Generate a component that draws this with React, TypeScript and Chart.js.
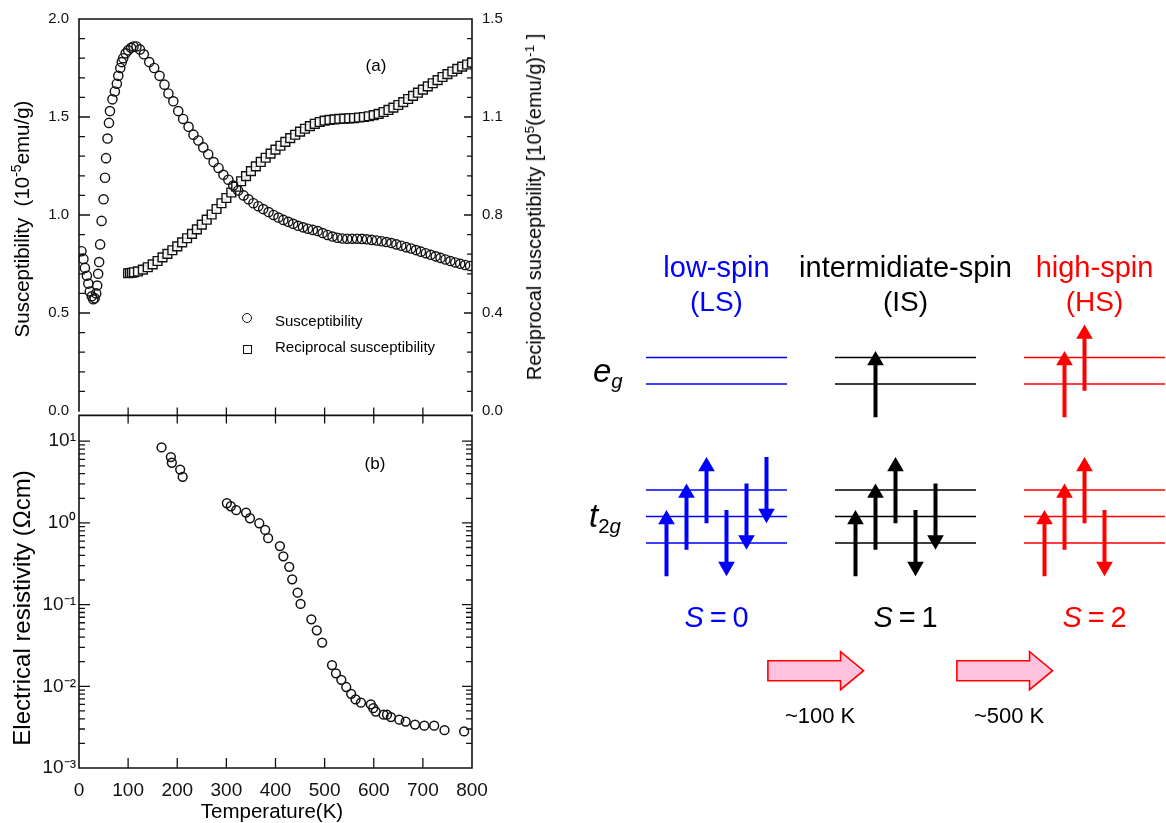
import React, { useEffect, useRef } from 'react';
import { Chart, registerables } from 'chart.js';

Chart.register(...registerables);

const FONT = '"Liberation Sans", Arial, Helvetica, sans-serif';
const INK = '#111111';

// ---------- (a) susceptibility (left axis, 10^-5 emu/g) ----------
const chiTemps = [5, 9, 12, 16, 19, 22, 26, 29, 32, 35, 37, 39, 41, 43, 46, 50, 53, 55, 58, 61, 63, 68, 73, 77, 80, 84, 87, 90, 95, 100, 106, 111, 117, 124, 132, 143, 153, 164, 174, 182, 192, 202, 212, 223, 233, 243, 253, 263, 274, 284, 294, 304, 314, 324, 335, 345, 355, 365, 375, 386, 396, 406, 416, 426, 436, 446, 456, 466, 476, 486, 496, 506, 516, 526, 536, 546, 556, 566, 576, 586, 596, 606, 616, 626, 636, 646, 656, 666, 676, 686, 696, 706, 716, 726, 736, 746, 756, 766, 776, 786, 796];
const chiValues = [0.815, 0.776, 0.73, 0.69, 0.65, 0.61, 0.585, 0.57, 0.575, 0.6, 0.64, 0.7, 0.76, 0.85, 0.97, 1.08, 1.19, 1.29, 1.39, 1.47, 1.53, 1.59, 1.63, 1.67, 1.71, 1.75, 1.78, 1.8, 1.825, 1.84, 1.853, 1.86, 1.86, 1.845, 1.82, 1.78, 1.75, 1.71, 1.665, 1.62, 1.58, 1.53, 1.49, 1.45, 1.41, 1.38, 1.345, 1.31, 1.27, 1.24, 1.205, 1.18, 1.15, 1.125, 1.1, 1.08, 1.06, 1.045, 1.03, 1.015, 1.0, 0.987, 0.975, 0.965, 0.955, 0.945, 0.937, 0.93, 0.924, 0.918, 0.908, 0.898, 0.89, 0.884, 0.88, 0.879, 0.879, 0.879, 0.878, 0.876, 0.873, 0.87, 0.866, 0.862, 0.857, 0.85, 0.843, 0.836, 0.829, 0.821, 0.813, 0.805, 0.797, 0.789, 0.781, 0.773, 0.765, 0.758, 0.751, 0.745, 0.74];

// ---------- (a) reciprocal susceptibility (right axis) ----------
const invTemps = [100, 104, 108, 112, 120, 130, 140, 150, 160, 170, 180, 190, 200, 210, 220, 230, 240, 250, 260, 270, 280, 290, 300, 310, 320, 330, 340, 350, 360, 370, 380, 390, 400, 410, 420, 430, 440, 450, 460, 470, 480, 490, 500, 510, 520, 530, 540, 550, 560, 570, 580, 590, 600, 610, 620, 630, 640, 650, 660, 670, 680, 690, 700, 710, 720, 730, 740, 750, 760, 770, 780, 790, 800];
const invValues = [0.527, 0.528, 0.529, 0.531, 0.534, 0.541, 0.55, 0.561, 0.574, 0.588, 0.601, 0.615, 0.63, 0.645, 0.661, 0.678, 0.695, 0.713, 0.732, 0.752, 0.773, 0.795, 0.815, 0.836, 0.858, 0.879, 0.899, 0.918, 0.936, 0.953, 0.969, 0.985, 1.0, 1.015, 1.03, 1.044, 1.057, 1.069, 1.08, 1.09, 1.099, 1.106, 1.111, 1.114, 1.116, 1.118, 1.119, 1.12, 1.121, 1.123, 1.125, 1.128, 1.132, 1.137, 1.144, 1.152, 1.161, 1.171, 1.182, 1.194, 1.206, 1.218, 1.23, 1.242, 1.254, 1.266, 1.278, 1.289, 1.299, 1.309, 1.318, 1.326, 1.333];

// ---------- (b) electrical resistivity (Ωcm) ----------
const rhoTemps = [168, 187, 189, 206, 211, 301, 309, 320, 340, 348, 367, 379, 385, 409, 416, 428, 434, 445, 451, 473, 484, 495, 515, 523, 534, 544, 554, 563, 574, 594, 599, 604, 620, 627, 635, 652, 665, 684, 703, 723, 744, 784];
const rhoValues = [8.4, 6.4, 5.45, 4.5, 3.67, 1.74, 1.6, 1.43, 1.34, 1.14, 0.99, 0.82, 0.65, 0.52, 0.39, 0.29, 0.204, 0.14, 0.102, 0.066, 0.0485, 0.0343, 0.0182, 0.0144, 0.012, 0.0098, 0.0081, 0.0069, 0.0063, 0.006, 0.0054, 0.0049, 0.0045, 0.0045, 0.0042, 0.0039, 0.0037, 0.0034, 0.0033, 0.0033, 0.0029, 0.0028];

// ---------- tick labels ----------
const tempTickValues = [0, 100, 200, 300, 400, 500, 600, 700, 800];
const tempTickLabels = ['0', '100', '200', '300', '400', '500', '600', '700', '800'];
const chiTickValues = [0, 0.5, 1.0, 1.5, 2.0];
const chiTickLabels = ['0.0', '0.5', '1.0', '1.5', '2.0'];
const invTickValues = [0, 0.375, 0.75, 1.125, 1.5];
const invTickLabels = ['0.0', '0.4', '0.8', '1.1', '1.5'];
const rhoTickValues = [0.001, 0.01, 0.1, 1, 10];
const rhoTickLabels = ['10⁻³', '10⁻²', '10⁻¹', '10⁰', '10¹'];
const RHO_MAX = 20.7;

// ---------- spin-state diagram ----------
const spinNames = ['low-spin', 'intermidiate-spin', 'high-spin'];
const spinAbbr = ['(LS)', '(IS)', '(HS)'];
const spinTotals = ['0', '1', '2'];
const spinColors = ['#0000ff', '#000000', '#ff0000'];
const t2gLevels = [0, 1, 2];
const egLevels = [6, 7];
const electronSlots = [
  [-2.5, -1.5, -0.5, 0.5, 1.5, 2.5],
  [-2.5, -1.5, -0.5, 0.5, 1.5, -1.5],
  [-2.5, -1.5, -0.5, 0.5, -1.5, -0.5],
];
const electronLevels = [
  [0, 1, 2, 0, 1, 2],
  [0, 1, 2, 0, 1, 6],
  [0, 1, 2, 0, 6, 7],
];
const electronSpins = [
  [1, 1, 1, -1, -1, -1],
  [1, 1, 1, -1, -1, 1],
  [1, 1, 1, -1, 1, 1],
];
const transitionFrom = [0, 1];
const transitionTo = [1, 2];
const transitionLabels = ['~100 K', '~500 K'];

// diagram layout (page px)
const D_LEFT = 560, D_TOP = 230, D_W = 606, D_H = 520;
const COL0 = 716.5, COL_STEP = 189;
const E0 = 543, E_STEP = 26.5;
const LEVEL_HALF = 0.373;
const SLOT = 20 / COL_STEP;
const ARROW_HALF = 1.25;
const HEAD_R = 9.6;
const TRANS_E = -4.82;
const colX = (c: number) => COL0 + COL_STEP * c;

type Tick = { value: number; major: boolean };
type Side = 'left' | 'right' | 'top' | 'bottom';
type MarkSpec = { scaleId: string; side: Side; major: number; minor: number; cross?: boolean };

function linearTicks(majors: number[], sub: number): Tick[] {
  const out: Tick[] = [];
  majors.forEach((v, i) => {
    out.push({ value: v, major: true });
    if (i < majors.length - 1) {
      const step = (majors[i + 1] - v) / sub;
      for (let k = 1; k < sub; k++) out.push({ value: v + k * step, major: false });
    }
  });
  return out;
}

function logTicks(majors: number[], max: number): Tick[] {
  const out: Tick[] = [];
  majors.forEach((d) => {
    out.push({ value: d, major: true });
    for (let m = 2; m <= 9; m++) if (d * m < max) out.push({ value: d * m, major: false });
  });
  return out;
}

function labelOf(value: number, values: number[], labels: string[]) {
  const i = values.findIndex((v) => Math.abs(v - value) <= 1e-9 * Math.abs(v) + 1e-12);
  return i >= 0 ? labels[i] : '';
}

function frameAndTicks(id: string, frame: Side[], specs: MarkSpec[]) {
  return {
    id,
    afterDraw(chart: any) {
      const { ctx, chartArea: a } = chart;
      ctx.save();
      ctx.strokeStyle = INK;
      ctx.lineWidth = 1.6;
      ctx.lineCap = 'square';
      ctx.beginPath();
      frame.forEach((s) => {
        if (s === 'top') { ctx.moveTo(a.left, a.top); ctx.lineTo(a.right, a.top); }
        if (s === 'bottom') { ctx.moveTo(a.left, a.bottom); ctx.lineTo(a.right, a.bottom); }
        if (s === 'left') { ctx.moveTo(a.left, a.top); ctx.lineTo(a.left, a.bottom); }
        if (s === 'right') { ctx.moveTo(a.right, a.top); ctx.lineTo(a.right, a.bottom); }
      });
      ctx.stroke();
      ctx.lineWidth = 1.3;
      ctx.lineCap = 'butt';
      ctx.beginPath();
      specs.forEach((sp) => {
        const scale = chart.scales[sp.scaleId];
        (scale.ticks as Tick[]).forEach((t) => {
          const p = scale.getPixelForValue(t.value);
          const len = t.major ? sp.major : sp.minor;
          const out = sp.cross ? len : 0;
          if (sp.side === 'left' || sp.side === 'right') {
            if (p < a.top + 2 || p > a.bottom - 2) return;
            const x0 = sp.side === 'left' ? a.left : a.right;
            const dir = sp.side === 'left' ? 1 : -1;
            ctx.moveTo(x0 - dir * out, p);
            ctx.lineTo(x0 + dir * len, p);
          } else {
            if (p < a.left + 2 || p > a.right - 2) return;
            const y0 = sp.side === 'top' ? a.top : a.bottom;
            const dir = sp.side === 'top' ? 1 : -1;
            ctx.moveTo(p, y0 - dir * out);
            ctx.lineTo(p, y0 + dir * len);
          }
        });
      });
      ctx.stroke();
      ctx.restore();
    },
  };
}

const hiddenGrid = { display: false, drawTicks: false };

function configA(): any {
  return {
    type: 'scatter',
    data: {
      datasets: [
        {
          data: chiTemps.map((t, i) => ({ x: t, y: chiValues[i] })),
          yAxisID: 'y',
          pointStyle: 'circle',
          pointRadius: 4.6,
          pointBorderWidth: 1.4,
          pointBorderColor: INK,
          pointBackgroundColor: 'rgba(0,0,0,0)',
        },
        {
          data: invTemps.map((t, i) => ({ x: t, y: invValues[i] })),
          yAxisID: 'y2',
          pointStyle: 'rect',
          pointRadius: 6.2,
          pointBorderWidth: 1.4,
          pointBorderColor: INK,
          pointBackgroundColor: 'rgba(255,255,255,0.85)',
        },
      ],
    },
    options: {
      animation: false,
      responsive: false,
      devicePixelRatio: 1,
      events: [],
      layout: { padding: { top: 17, bottom: 17, left: 0, right: 0 }, autoPadding: false },
      plugins: { legend: { display: false }, tooltip: { enabled: false } },
      scales: {
        x: { type: 'linear', min: 0, max: 800, display: false },
        y: {
          type: 'linear', position: 'left', min: 0, max: 2,
          grid: hiddenGrid, border: { display: false },
          afterFit: (s: any) => { s.width = 79; },
          afterBuildTicks: (s: any) => { s.ticks = linearTicks(chiTickValues, 5); },
          ticks: {
            autoSkip: false, padding: 10, color: INK, font: { family: FONT, size: 15 },
            callback: (v: number) => labelOf(v, chiTickValues, chiTickLabels),
          },
        },
        y2: {
          type: 'linear', position: 'right', min: 0, max: 1.5,
          grid: hiddenGrid, border: { display: false },
          afterFit: (s: any) => { s.width = 88; },
          afterBuildTicks: (s: any) => { s.ticks = linearTicks(invTickValues, 5); },
          ticks: {
            autoSkip: false, padding: 10, color: INK, font: { family: FONT, size: 15 },
            callback: (v: number) => labelOf(v, invTickValues, invTickLabels),
          },
        },
      },
    },
    plugins: [
      frameAndTicks('frameA', ['top', 'left', 'right'], [
        { scaleId: 'y', side: 'left', major: 11, minor: 6 },
        { scaleId: 'y2', side: 'right', major: 8, minor: 5 },
      ]),
    ],
  };
}

function configB(): any {
  return {
    type: 'scatter',
    data: {
      datasets: [
        {
          data: rhoTemps.map((t, i) => ({ x: t, y: rhoValues[i] })),
          yAxisID: 'y',
          pointStyle: 'circle',
          pointRadius: 4.4,
          pointBorderWidth: 1.5,
          pointBorderColor: INK,
          pointBackgroundColor: 'rgba(0,0,0,0)',
        },
      ],
    },
    options: {
      animation: false,
      responsive: false,
      devicePixelRatio: 1,
      events: [],
      layout: { padding: { top: 12, bottom: 0, left: 0, right: 0 }, autoPadding: false },
      plugins: { legend: { display: false }, tooltip: { enabled: false } },
      scales: {
        x: {
          type: 'linear', position: 'bottom', min: 0, max: 800,
          grid: hiddenGrid, border: { display: false },
          afterFit: (s: any) => { s.height = 55; },
          afterBuildTicks: (s: any) => { s.ticks = tempTickValues.map((v) => ({ value: v, major: true })); },
          ticks: {
            autoSkip: false, maxRotation: 0, padding: 11, color: INK, font: { family: FONT, size: 19 },
            callback: (v: number) => labelOf(v, tempTickValues, tempTickLabels),
          },
        },
        y: {
          type: 'logarithmic', position: 'left', min: 0.001, max: RHO_MAX,
          grid: hiddenGrid, border: { display: false },
          afterFit: (s: any) => { s.width = 79; },
          afterBuildTicks: (s: any) => { s.ticks = logTicks(rhoTickValues, RHO_MAX); },
          ticks: {
            autoSkip: false, padding: 3, color: INK, font: { family: FONT, size: 19 },
            callback: (v: number) => labelOf(v, rhoTickValues, rhoTickLabels),
          },
        },
        y2: {
          type: 'logarithmic', position: 'right', min: 0.001, max: RHO_MAX,
          grid: hiddenGrid, border: { display: false },
          afterFit: (s: any) => { s.width = 88; },
          afterBuildTicks: (s: any) => { s.ticks = logTicks(rhoTickValues, RHO_MAX); },
          ticks: { display: false, autoSkip: false },
        },
      },
    },
    plugins: [
      frameAndTicks('frameB', ['top', 'left', 'right', 'bottom'], [
        { scaleId: 'y', side: 'left', major: 11, minor: 6 },
        { scaleId: 'y2', side: 'right', major: 10, minor: 6 },
        { scaleId: 'x', side: 'top', major: 8, minor: 8, cross: true },
        { scaleId: 'x', side: 'bottom', major: 10, minor: 10 },
      ]),
    ],
  };
}

const transitionPlugin = {
  id: 'transitions',
  beforeDatasetsDraw(chart: any) {
    const { ctx } = chart;
    const xs = chart.scales.x;
    const ys = chart.scales.y;
    ctx.save();
    transitionFrom.forEach((from, i) => {
      const to = transitionTo[i];
      const x0 = xs.getPixelForValue(from + 0.272);
      const x1 = xs.getPixelForValue(to - 0.222);
      const yc = ys.getPixelForValue(TRANS_E);
      const hx = x1 - 23;
      ctx.beginPath();
      ctx.moveTo(x0, yc - 10);
      ctx.lineTo(hx, yc - 10);
      ctx.lineTo(hx, yc - 19);
      ctx.lineTo(x1, yc);
      ctx.lineTo(hx, yc + 19);
      ctx.lineTo(hx, yc + 10);
      ctx.lineTo(x0, yc + 10);
      ctx.closePath();
      ctx.fillStyle = '#ffc2de';
      ctx.fill();
      ctx.lineWidth = 1.6;
      ctx.strokeStyle = '#ff0000';
      ctx.lineJoin = 'miter';
      ctx.stroke();
    });
    ctx.restore();
  },
};

function configD(): any {
  const datasets: any[] = [];
  const headCenter = HEAD_R / E_STEP;
  const headBase = (1.35 * HEAD_R) / E_STEP;
  spinNames.forEach((_, c) => {
    const color = spinColors[c];
    const levelPts: any[] = [];
    [...t2gLevels, ...egLevels].forEach((L) => {
      levelPts.push({ x: c - LEVEL_HALF, y: L }, { x: c + LEVEL_HALF, y: L }, { x: c, y: null });
    });
    datasets.push({
      data: levelPts, showLine: true, borderColor: color, borderWidth: 1.3,
      pointRadius: 0, spanGaps: false, order: 3,
    });
    const shaft: any[] = [];
    const heads: any[] = [];
    const rots: number[] = [];
    electronSlots[c].forEach((slot, k) => {
      const L = electronLevels[c][k];
      const dir = electronSpins[c][k];
      const x = c + slot * SLOT;
      const tail = L - dir * ARROW_HALF;
      const tip = L + dir * ARROW_HALF;
      shaft.push({ x, y: tail }, { x, y: tip - dir * headBase }, { x, y: null });
      heads.push({ x, y: tip - dir * headCenter });
      rots.push(dir > 0 ? 0 : 180);
    });
    datasets.push({
      data: shaft, showLine: true, borderColor: color, borderWidth: 4, borderCapStyle: 'butt',
      pointRadius: 0, spanGaps: false, order: 2,
    });
    datasets.push({
      data: heads, showLine: false, pointStyle: 'triangle', pointRadius: HEAD_R,
      pointRotation: rots, pointBackgroundColor: color, pointBorderColor: color,
      pointBorderWidth: 0, order: 1,
    });
  });
  const xMin = -(COL0 - D_LEFT) / COL_STEP;
  const xMax = xMin + D_W / COL_STEP;
  const eMax = (E0 - D_TOP) / E_STEP;
  const eMin = eMax - D_H / E_STEP;
  return {
    type: 'scatter',
    data: { datasets },
    options: {
      animation: false,
      responsive: false,
      devicePixelRatio: 1,
      events: [],
      layout: { padding: 0, autoPadding: false },
      plugins: { legend: { display: false }, tooltip: { enabled: false } },
      scales: {
        x: { type: 'linear', min: xMin, max: xMax, display: false },
        y: { type: 'linear', min: eMin, max: eMax, display: false },
      },
    },
    plugins: [transitionPlugin],
  };
}

function Text(props: {
  x: number; y: number; size: number; color?: string; rotate?: boolean; align?: 'left' | 'center';
  italic?: boolean; children: React.ReactNode;
}) {
  const { x, y, size, color = '#000', rotate = false, align = 'center', italic = false, children } = props;
  const tx = align === 'left' ? '0' : '-50%';
  return (
    <div
      style={{
        position: 'absolute', left: x, top: y, fontSize: size, color, lineHeight: 1,
        whiteSpace: 'nowrap', fontFamily: FONT, fontStyle: italic ? 'italic' : 'normal',
        transform: `translate(${tx}, -50%)${rotate ? ' rotate(-90deg)' : ''}`,
      }}
    >
      {children}
    </div>
  );
}

const sup: React.CSSProperties = { fontSize: '0.68em', position: 'relative', top: '-0.55em' };
const sub: React.CSSProperties = { fontSize: '0.62em', position: 'relative', top: '0.3em', fontStyle: 'italic' };

export default function App() {
  const refA = useRef<HTMLCanvasElement>(null);
  const refB = useRef<HTMLCanvasElement>(null);
  const refD = useRef<HTMLCanvasElement>(null);

  useEffect(() => {
    const charts = [
      new Chart(refA.current as HTMLCanvasElement, configA()),
      new Chart(refB.current as HTMLCanvasElement, configB()),
      new Chart(refD.current as HTMLCanvasElement, configD()),
    ];
    return () => charts.forEach((c) => c.destroy());
  }, []);

  return (
    <div style={{ position: 'absolute', left: 0, top: 0, width: 1166, height: 823, background: '#fff', overflow: 'hidden' }}>
      <canvas ref={refA} width={560} height={430} style={{ position: 'absolute', left: 0, top: 0, width: 560, height: 430 }} />
      <canvas ref={refB} width={560} height={422} style={{ position: 'absolute', left: 0, top: 401, width: 560, height: 422 }} />
      <canvas ref={refD} width={D_W} height={D_H} style={{ position: 'absolute', left: D_LEFT, top: D_TOP, width: D_W, height: D_H }} />

      {/* axis titles */}
      <Text x={22} y={219} size={20.5} rotate>
        Susceptibility&nbsp;&nbsp;(10<span style={sup}>-5</span>emu/g)
      </Text>
      <Text x={534} y={207} size={20} rotate>
        Reciprocal susceptibility [10<span style={sup}>5</span>(emu/g)<span style={sup}>-1</span> ]
      </Text>
      <Text x={22} y={608} size={24} rotate>
        Electrical resistivity (Ωcm)
      </Text>
      <Text x={272} y={811} size={20.5}>Temperature(K)</Text>

      {/* panel labels */}
      <Text x={376} y={65} size={17}>(a)</Text>
      <Text x={375} y={463} size={17}>(b)</Text>

      {/* legend */}
      <div style={{ position: 'absolute', left: 242, top: 313, width: 10, height: 10, border: `1.4px solid ${INK}`, borderRadius: '50%', boxSizing: 'border-box' }} />
      <div style={{ position: 'absolute', left: 242.5, top: 344.5, width: 9, height: 9, border: `1.4px solid ${INK}`, boxSizing: 'border-box' }} />
      <Text x={275} y={320} size={15} align="left">Susceptibility</Text>
      <Text x={275} y={346} size={15} align="left">Reciprocal susceptibility</Text>

      {/* spin-state diagram text */}
      {spinNames.map((name, c) => (
        <React.Fragment key={name}>
          <Text x={colX(c)} y={267} size={29} color={spinColors[c]}>{name}</Text>
          <Text x={colX(c)} y={302} size={28} color={spinColors[c]}>{spinAbbr[c]}</Text>
          <Text x={colX(c)} y={617} size={29} color={spinColors[c]}>
            <i>S</i>{'\u2009=\u2009'}{spinTotals[c]}
          </Text>
        </React.Fragment>
      ))}
      <Text x={593} y={370} size={33} align="left" italic>
        e<span style={sub}>g</span>
      </Text>
      <Text x={589} y={515} size={33} align="left" italic>
        t<span style={{ ...sub, fontStyle: 'normal' }}>2</span><span style={sub}>g</span>
      </Text>
      {transitionLabels.map((lab, i) => (
        <Text key={lab} x={colX(transitionFrom[i]) + 0.548 * COL_STEP} y={716} size={22}>{lab}</Text>
      ))}
    </div>
  );
}
